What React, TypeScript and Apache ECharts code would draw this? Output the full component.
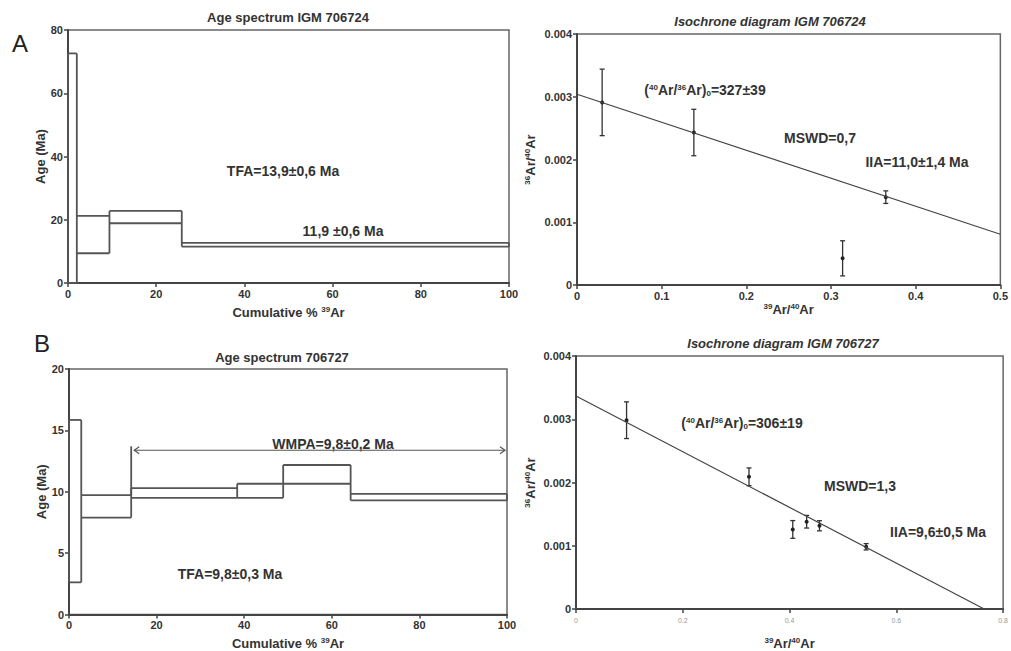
import React, { useEffect, useRef } from "react";
import * as echarts from "echarts";

// ---- Age spectrum A (IGM 706724) ----
const ageA_bounds = [0, 2, 9.4, 25.8, 100];
const ageA_upper = [72.6, 21.2, 22.8, 12.7];
const ageA_lower = [0, 9.4, 18.9, 11.5];

// ---- Age spectrum B (706727) ----
const ageB_bounds = [0, 2.8, 14.2, 38.4, 48.9, 64.3, 100];
const ageB_upper = [15.85, 9.72, 10.3, 10.65, 12.18, 9.82];
const ageB_lower = [2.62, 7.9, 9.5, 9.5, 10.65, 9.29];
// plateau marker: [startX, endX, arrowY, markerBottom, markerTop]
const plateauB = [14.2, 100, 13.38, 9.72, 13.7];

// ---- Isochrone A ----
const isoA_x = [0.0297, 0.138, 0.3137, 0.3647];
const isoA_y = [0.00291, 0.00243, 0.000425, 0.0014];
const isoA_err = [0.00053, 0.00037, 0.00028, 0.0001];
const isoA_lineX = [0, 0.5];
const isoA_lineY = [0.00304, 0.000808];

// ---- Isochrone B ----
const isoB_x = [0.0947, 0.324, 0.406, 0.432, 0.456, 0.5434];
const isoB_y = [0.002985, 0.00209, 0.001258, 0.00138, 0.001316, 0.000984];
const isoB_err = [0.00029, 0.00014, 0.00014, 0.0001, 0.00008, 0.00005];
const isoB_lineX = [0, 0.7645];
const isoB_lineY = [0.003369, 0];

const FONT = '"Liberation Sans", Arial, sans-serif';
const LINE = "#555";
const TXT = "#333";

function stepData(bounds: number[], lo: number[], hi: number[]) {
  return lo.map((l, i) => [bounds[i], bounds[i + 1], l, hi[i]]);
}

function spectrumRender(lo: number[], hi: number[]) {
  return (params: any, api: any) => {
    const i = params.dataIndex;
    const x0 = api.value(0), x1 = api.value(1), l = api.value(2), h = api.value(3);
    const style = { stroke: LINE, lineWidth: 1.8, fill: "none" };
    const tl = api.coord([x0, h]), tr = api.coord([x1, h]);
    const bl = api.coord([x0, l]), br = api.coord([x1, l]);
    const minL = i > 0 ? Math.min(l, lo[i - 1]) : l;
    const maxH = i > 0 ? Math.max(h, hi[i - 1]) : h;
    const vt = api.coord([x0, maxH]), vb = api.coord([x0, minL]);
    const children: any[] = [
      { type: "line", shape: { x1: tl[0], y1: tl[1], x2: tr[0], y2: tr[1] }, style },
      { type: "line", shape: { x1: bl[0], y1: bl[1], x2: br[0], y2: br[1] }, style },
      { type: "line", shape: { x1: vt[0], y1: vt[1], x2: vb[0], y2: vb[1] }, style },
    ];
    if (i === lo.length - 1) {
      children.push({ type: "line", shape: { x1: tr[0], y1: tr[1], x2: br[0], y2: br[1] }, style });
    }
    return { type: "group", children };
  };
}

function errRender(params: any, api: any) {
  const x = api.value(0), y = api.value(1), e = api.value(2);
  const p = api.coord([x, y]);
  const t = api.coord([x, y + e]);
  const b = api.coord([x, y - e]);
  const style = { stroke: "#333", lineWidth: 1.3 };
  const cw = 2.5;
  return {
    type: "group",
    children: [
      { type: "line", shape: { x1: t[0], y1: t[1], x2: b[0], y2: b[1] }, style },
      { type: "line", shape: { x1: t[0] - cw, y1: t[1], x2: t[0] + cw, y2: t[1] }, style },
      { type: "line", shape: { x1: b[0] - cw, y1: b[1], x2: b[0] + cw, y2: b[1] }, style },
      { type: "circle", shape: { cx: p[0], cy: p[1], r: 2 }, style: { fill: "#222" } },
    ],
  };
}

function arrowRender(params: any, api: any) {
  const sx = api.value(0), ex = api.value(1), y = api.value(2), mb = api.value(3), mt = api.value(4);
  const s = api.coord([sx, y]);
  const e = api.coord([ex, y]);
  const m0 = api.coord([sx, mb]);
  const m1 = api.coord([sx, mt]);
  const style = { stroke: LINE, lineWidth: 1.2, fill: "none" };
  const ax = s[0] + 3;
  const bx = e[0] - 2;
  return {
    type: "group",
    children: [
      { type: "line", shape: { x1: m0[0], y1: m0[1], x2: m1[0], y2: m1[1] }, style: { stroke: LINE, lineWidth: 1.8 } },
      { type: "line", shape: { x1: ax, y1: s[1], x2: bx, y2: e[1] }, style },
      { type: "polyline", shape: { points: [[ax + 5, s[1] - 3.5], [ax, s[1]], [ax + 5, s[1] + 3.5]] }, style },
      { type: "polyline", shape: { points: [[bx - 5, e[1] - 3.5], [bx, e[1]], [bx - 5, e[1] + 3.5]] }, style },
    ],
  };
}

// rich styles for graphic texts (zrender props)
const gRich = {
  sup: { fontSize: 8, fontWeight: "bold", fontFamily: FONT, fill: TXT, padding: [0, 0, 6, 0] },
  sub: { fontSize: 8, fontWeight: "bold", fontFamily: FONT, fill: TXT, padding: [6, 0, 0, 0] },
};
// rich styles for axis names (echarts props)
const aRich = {
  sup: { fontSize: 8, fontWeight: "bold", fontFamily: FONT, color: TXT, padding: [0, 0, 6, 0] },
};

function txt(text: string, x: number, y: number, size = 14, extra: any = {}) {
  return {
    type: "text",
    x,
    y,
    style: {
      text,
      rich: gRich,
      font: `${extra.italic ? "italic " : ""}${extra.weight || "bold"} ${size}px ${FONT}`,
      fill: extra.fill || TXT,
      align: extra.align || "center",
      verticalAlign: "middle",
      textAlign: extra.align || "center",
      textVerticalAlign: "middle",
    },
  };
}

const axisLineStyle = { show: true, lineStyle: { color: "#444", width: 2 } };
const axisTick = { show: true, inside: false, length: 4, lineStyle: { color: "#444", width: 1.5 } };
const axisLabel = { fontFamily: FONT, fontWeight: "bold", fontSize: 11, color: TXT, margin: 5 };
const nameStyle = { fontFamily: FONT, fontWeight: "bold", fontSize: 13, color: TXT, rich: aRich };

const cumName = "Cumulative % {sup|39}Ar";
const x39Name = "{sup|39}Ar/{sup|40}Ar";
const y36Name = "{sup|36}Ar/{sup|40}Ar";

export default function App() {
  const ref = useRef<HTMLDivElement>(null);
  useEffect(() => {
    if (!ref.current) return;
    const chart = echarts.init(ref.current, null, { renderer: "svg" });
    const gridBase = { show: true, borderColor: "#666", borderWidth: 1.5, backgroundColor: "transparent" };
    const option: any = {
      animation: false,
      backgroundColor: "#fff",
      textStyle: { fontFamily: FONT },
      grid: [
        { ...gridBase, left: 68, top: 30, width: 441, height: 253 },
        { ...gridBase, left: 577, top: 34, width: 426, height: 251 },
        { ...gridBase, left: 69, top: 369, width: 438, height: 249 },
        { ...gridBase, left: 576, top: 356, width: 428, height: 253 },
      ],
      xAxis: [
        {
          gridIndex: 0, type: "value", min: 0, max: 100, interval: 20,
          axisLine: axisLineStyle, axisTick, axisLabel, splitLine: { show: false },
          name: cumName, nameLocation: "middle", nameGap: 22, nameTextStyle: nameStyle,
        },
        {
          gridIndex: 1, type: "value", min: 0, max: 0.5, interval: 0.1,
          axisLine: axisLineStyle, axisTick, axisLabel, splitLine: { show: false },
          name: x39Name, nameLocation: "middle", nameGap: 17, nameTextStyle: nameStyle,
        },
        {
          gridIndex: 2, type: "value", min: 0, max: 100, interval: 20,
          axisLine: axisLineStyle, axisTick, axisLabel, splitLine: { show: false },
          name: cumName, nameLocation: "middle", nameGap: 22, nameTextStyle: nameStyle,
        },
        {
          gridIndex: 3, type: "value", min: 0, max: 0.8, interval: 0.2,
          axisLine: axisLineStyle, axisTick,
          axisLabel: { fontFamily: FONT, fontSize: 7, color: "#999", margin: 8 },
          splitLine: { show: false },
          name: x39Name, nameLocation: "middle", nameGap: 27, nameTextStyle: nameStyle,
        },
      ],
      yAxis: [
        {
          gridIndex: 0, type: "value", min: 0, max: 80, interval: 20,
          axisLine: axisLineStyle, axisTick, axisLabel, splitLine: { show: false },
          name: "Age (Ma)", nameLocation: "middle", nameGap: 18, nameTextStyle: nameStyle,
        },
        {
          gridIndex: 1, type: "value", min: 0, max: 0.004, interval: 0.001,
          axisLine: axisLineStyle, axisTick, axisLabel, splitLine: { show: false },
          name: y36Name, nameLocation: "middle", nameGap: 40, nameTextStyle: nameStyle,
        },
        {
          gridIndex: 2, type: "value", min: 0, max: 20, interval: 5,
          axisLine: axisLineStyle, axisTick, axisLabel, splitLine: { show: false },
          name: "Age (Ma)", nameLocation: "middle", nameGap: 19, nameTextStyle: nameStyle,
        },
        {
          gridIndex: 3, type: "value", min: 0, max: 0.004, interval: 0.001,
          axisLine: axisLineStyle, axisTick, axisLabel, splitLine: { show: false },
          name: y36Name, nameLocation: "middle", nameGap: 39, nameTextStyle: nameStyle,
        },
      ],
      series: [
        {
          type: "custom", xAxisIndex: 0, yAxisIndex: 0, clip: false,
          renderItem: spectrumRender(ageA_lower, ageA_upper),
          data: stepData(ageA_bounds, ageA_lower, ageA_upper),
        },
        {
          type: "custom", xAxisIndex: 2, yAxisIndex: 2, clip: false,
          renderItem: spectrumRender(ageB_lower, ageB_upper),
          data: stepData(ageB_bounds, ageB_lower, ageB_upper),
        },
        {
          type: "custom", xAxisIndex: 2, yAxisIndex: 2,
          renderItem: arrowRender,
          data: [plateauB],
        },
        {
          type: "line", xAxisIndex: 1, yAxisIndex: 1, symbol: "none",
          lineStyle: { color: "#444", width: 1.2 },
          data: isoA_lineX.map((x, i) => [x, isoA_lineY[i]]),
        },
        {
          type: "custom", xAxisIndex: 1, yAxisIndex: 1, renderItem: errRender,
          data: isoA_x.map((x, i) => [x, isoA_y[i], isoA_err[i]]),
        },
        {
          type: "line", xAxisIndex: 3, yAxisIndex: 3, symbol: "none",
          lineStyle: { color: "#444", width: 1.2 },
          data: isoB_lineX.map((x, i) => [x, isoB_lineY[i]]),
        },
        {
          type: "custom", xAxisIndex: 3, yAxisIndex: 3, renderItem: errRender,
          data: isoB_x.map((x, i) => [x, isoB_y[i], isoB_err[i]]),
        },
      ],
      graphic: [
        txt("A", 20, 43, 24, { weight: "normal", fill: "#222" }),
        txt("B", 42, 343, 24, { weight: "normal", fill: "#222" }),
        txt("Age spectrum IGM 706724", 288, 17, 13),
        txt("Isochrone diagram IGM 706724", 770, 21, 13, { italic: true }),
        txt("Age spectrum 706727", 282, 357, 13),
        txt("Isochrone diagram IGM 706727", 783, 343, 13, { italic: true }),
        txt("TFA=13,9±0,6 Ma", 283, 171),
        txt("11,9 ±0,6 Ma", 343, 231),
        txt("({sup|40}Ar/{sup|36}Ar){sub|0}=327±39", 705, 90),
        txt("MSWD=0,7", 820, 138),
        txt("IIA=11,0±1,4 Ma", 917, 162),
        txt("WMPA=9,8±0,2 Ma", 333, 444),
        txt("TFA=9,8±0,3 Ma", 230, 574),
        txt("({sup|40}Ar/{sup|36}Ar){sub|0}=306±19", 742, 423),
        txt("MSWD=1,3", 860, 486),
        txt("IIA=9,6±0,5 Ma", 938, 532),
      ],
    };
    chart.setOption(option);
    return () => chart.dispose();
  }, []);
  return (
    <div
      ref={ref}
      style={{ position: "absolute", left: 0, top: 0, width: 1011, height: 651 }}
    />
  );
}
